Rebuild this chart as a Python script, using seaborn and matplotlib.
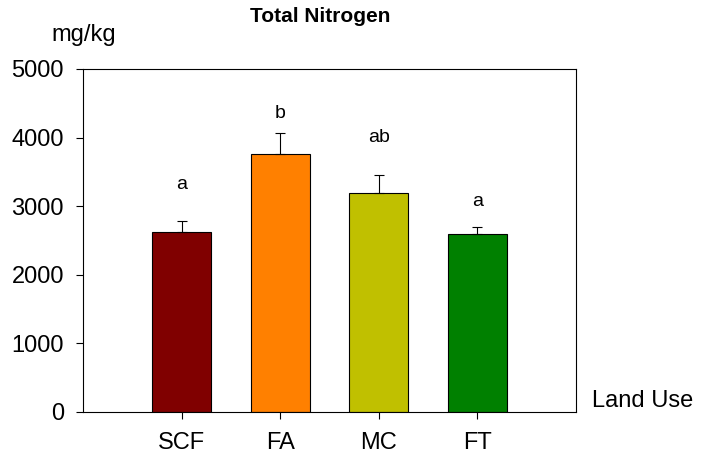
import matplotlib
matplotlib.use("Agg")
import matplotlib.pyplot as plt
import seaborn as sns
import pandas as pd

# Total nitrogen by land use (mg/kg), mean and standard error
land_use = ["SCF", "FA", "MC", "FT"]
nitrogen = [2620, 3760, 3190, 2590]
std_err = [160, 310, 260, 100]
groups = ["a", "b", "ab", "a"]
group_label_y = [3250, 4280, 3930, 3000]
bar_colors = ["#800000", "#FF8000", "#C0C000", "#008000"]

sns.set_style("ticks")
plt.rcParams["font.family"] = ["Liberation Sans", "DejaVu Sans"]
plt.rcParams["text.color"] = "black"
plt.rcParams["xtick.color"] = "black"
plt.rcParams["ytick.color"] = "black"

df = pd.DataFrame({"Land Use": land_use, "Total N": nitrogen})

fig = plt.figure(figsize=(7.02, 4.59), dpi=100)
ax = fig.add_axes([0.1182, 0.1024, 0.7023, 0.7473])

sns.barplot(data=df, x="Land Use", y="Total N", hue="Land Use",
            palette=bar_colors, order=land_use, hue_order=land_use,
            width=0.6, errorbar=None, legend=False, saturation=1,
            edgecolor="black", linewidth=0.8, ax=ax)

# upper-only error bars
ax.errorbar(range(len(land_use)), nitrogen, yerr=[[0] * len(std_err), std_err],
            fmt="none", ecolor="black", elinewidth=0.8, capsize=3.6,
            capthick=0.8, zorder=1)

for i, (g, gy) in enumerate(zip(groups, group_label_y)):
    ax.text(i, gy, g, ha="center", va="baseline", fontsize=14, color="black")

ax.set_xlim(-1, 4)
ax.set_ylim(0, 5000)
ax.set_yticks([0, 1000, 2000, 3000, 4000, 5000])
ax.set_xlabel("")
ax.set_ylabel("")
for side in ["top", "right", "left", "bottom"]:
    ax.spines[side].set_visible(True)
    ax.spines[side].set_color("black")
    ax.spines[side].set_linewidth(0.8)
ax.tick_params(axis="both", direction="out", length=5, width=0.8,
               colors="black", labelcolor="black", labelsize=17)
ax.tick_params(axis="y", pad=8.7)
ax.tick_params(axis="x", pad=9.5)

fig.text(0.4566, 0.9527, "Total Nitrogen", ha="center", va="baseline",
         fontsize=15, fontweight="bold", color="black")
fig.text(0.1192, 0.9113, "mg/kg", ha="center", va="baseline", fontsize=17,
         color="black")
fig.text(0.843, 0.1126, "Land Use", ha="left", va="baseline", fontsize=17,
         color="black")

fig.savefig("out.png", dpi=100)
